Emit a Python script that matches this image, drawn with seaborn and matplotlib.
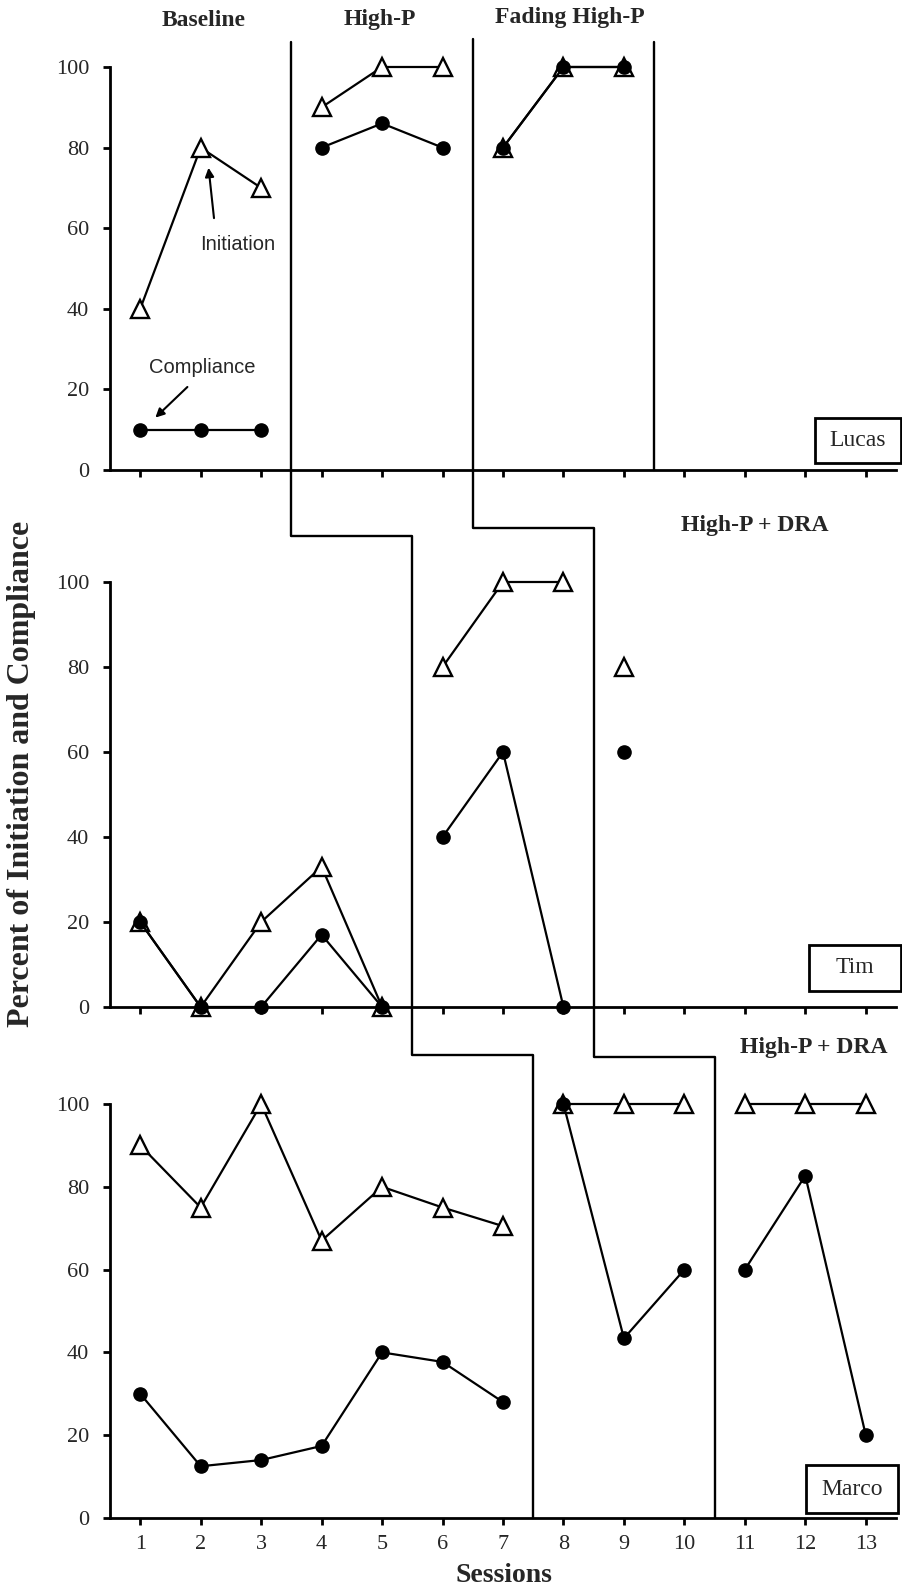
import numpy as np
import pandas as pd
import matplotlib
matplotlib.use("Agg")
import matplotlib.pyplot as plt
import matplotlib.transforms as mtransforms
from matplotlib.lines import Line2D
from matplotlib.patches import Rectangle
import seaborn as sns

sns.set_style("white")
plt.rcParams['font.family'] = ['Liberation Serif', 'DejaVu Serif']

# ---------------- data ----------------
sessions = list(range(1, 14))
tick_labels = [str(s) for s in sessions]

# Lucas
lucas_sessions = [1, 2, 3, 4, 5, 6, 7, 8, 9]
lucas_phase = [1, 1, 1, 2, 2, 2, 3, 3, 3]
lucas_initiation = [40, 80, 70, 90, 100, 100, 80, 100, 100]
lucas_compliance = [10, 10, 10, 80, 86, 80, 80, 100, 100]

# Tim
tim_sessions = [1, 2, 3, 4, 5, 6, 7, 8, 9]
tim_phase = [1, 1, 1, 1, 1, 2, 2, 2, 3]
tim_initiation = [20, 0, 20, 33, 0, 80, 100, 100, 80]
tim_compliance = [20, 0, 0, 17, 0, 40, 60, 0, 60]

# Marco
marco_sessions = [1, 2, 3, 4, 5, 6, 7, 8, 9, 10, 11, 12, 13]
marco_phase = [1, 1, 1, 1, 1, 1, 1, 2, 2, 2, 3, 3, 3]
marco_initiation = [90, 75, 100, 67, 80, 75, 70.5, 100, 100, 100, 100, 100, 100]
marco_compliance = [30, 12.5, 14, 17.4, 40, 37.7, 28, 100, 43.4, 60, 60, 82.7, 20]

names = ["Lucas", "Tim", "Marco"]
phase_titles_top = ["Baseline", "High-P", "Fading High-P"]
phase_title_dra = "High-P + DRA"
y_ticks = [0, 20, 40, 60, 80, 100]

# phase-change lines (session boundaries) per panel
lucas_changes = [3.5, 6.5, 9.5]
tim_changes = [5.5, 8.5]
marco_changes = [7.5, 10.5]


def make_df(s, ph, ini, comp):
    d1 = pd.DataFrame({"session": s, "phase": ph, "value": ini, "measure": "Initiation"})
    d2 = pd.DataFrame({"session": s, "phase": ph, "value": comp, "measure": "Compliance"})
    return pd.concat([d1, d2], ignore_index=True)


dfs = [make_df(lucas_sessions, lucas_phase, lucas_initiation, lucas_compliance),
       make_df(tim_sessions, tim_phase, tim_initiation, tim_compliance),
       make_df(marco_sessions, marco_phase, marco_initiation, marco_compliance)]

# ---------------- layout (pixels) ----------------
W, H = 903, 1591
fig = plt.figure(figsize=(W / 100, H / 100), dpi=100)

ax_left, ax_right = 110, 896
panels_px = [(67, 470), (582, 1007), (1104, 1518)]  # (y of 100, y of 0) from top


def fy(px):
    return 1 - px / H


def fx(px):
    return px / W


axes = []
for (ytop, ybot) in panels_px:
    ax = fig.add_axes([fx(ax_left), fy(ybot), (ax_right - ax_left) / W, (ybot - ytop) / H])
    axes.append(ax)

for i, (ax, df) in enumerate(zip(axes, dfs)):
    ini = df[df.measure == "Initiation"]
    comp = df[df.measure == "Compliance"]
    sns.lineplot(data=ini, x="session", y="value", units="phase", estimator=None,
                 color="black", lw=1.6, marker="^", markersize=13, markerfacecolor="white",
                 markeredgecolor="black", markeredgewidth=1.7, ax=ax, clip_on=False, zorder=3)
    sns.lineplot(data=comp, x="session", y="value", units="phase", estimator=None,
                 color="black", lw=1.6, marker="o", markersize=9.5, markerfacecolor="black",
                 markeredgecolor="black", markeredgewidth=1, ax=ax, clip_on=False, zorder=4)
    ax.set_xlim(0.5, 13.5)
    ax.set_ylim(0, 100)
    ax.set_xticks(sessions)
    ax.set_yticks(y_ticks)
    ax.set_yticklabels([str(t) for t in y_ticks], fontsize=16)
    if i == 2:
        ax.set_xticklabels(tick_labels, fontsize=16)
    else:
        ax.set_xticklabels([])
    ax.set_xlabel("")
    ax.set_ylabel("")
    for sp in ["top", "right"]:
        ax.spines[sp].set_visible(False)
    for sp in ["left", "bottom"]:
        ax.spines[sp].set_linewidth(2)
        ax.spines[sp].set_color("black")
    ax.tick_params(axis="both", direction="out", length=5, width=2, color="black",
                   left=True, bottom=True)
    ax.tick_params(axis="y", pad=10)
    ax.tick_params(axis="x", pad=7)
    ax.set_facecolor("none")
    if ax.get_legend():
        ax.get_legend().remove()

# name boxes (axes coordinates)
boxes = [(0.897, 0.017, 0.109, 0.112), (0.889, 0.038, 0.117, 0.108), (0.885, 0.012, 0.118, 0.116)]
for ax, name, (bx, by, bw, bh) in zip(axes, names, boxes):
    r = Rectangle((bx, by), bw, bh, transform=ax.transAxes, fill=True, facecolor="white",
                  edgecolor="black", lw=2, clip_on=False, zorder=5)
    ax.add_patch(r)
    ax.text(bx + bw / 2, by + bh / 2, name, transform=ax.transAxes, ha="center", va="center",
            fontsize=17, zorder=6)

# annotations (top panel)
sans = ['Liberation Sans', 'DejaVu Sans']
ax0 = axes[0]
ax0.text(2.62, 56, "Initiation", ha="center", va="center", fontsize=14.5, family=sans)
ax0.text(2.02, 25.5, "Compliance", ha="center", va="center", fontsize=14.5, family=sans)
arrow_kw = dict(arrowstyle="-|>", color="black", lw=1.5, shrinkA=0, shrinkB=0, mutation_scale=13)
ax0.annotate("", xy=(2.13, 75), xytext=(2.22, 62.5), arrowprops=arrow_kw)
ax0.annotate("", xy=(1.25, 13), xytext=(1.78, 20.6), arrowprops=arrow_kw)

# phase titles
for txt, xs, ypx in zip(phase_titles_top, [204, 380, 570], [20, 20, 17]):
    fig.text(fx(xs), fy(ypx), txt, ha="center", va="center", fontsize=17, fontweight="bold")
fig.text(fx(755), fy(525), phase_title_dra, ha="center", va="center", fontsize=17, fontweight="bold")
fig.text(fx(814), fy(1048), phase_title_dra, ha="center", va="center", fontsize=17, fontweight="bold")

# axis labels
fig.text(fx(22), fy(774), "Percent of Initiation and Compliance", rotation=90, ha="center",
         va="center", fontsize=23, fontweight="bold")
fig.text(fx(504), fy(1576), "Sessions", ha="center", va="center", fontsize=20, fontweight="bold")

# phase-change lines across panels (x in data units, y in figure pixels)
tr = mtransforms.blended_transform_factory(axes[2].transData, fig.transFigure)
paths = [
    ([lucas_changes[0], lucas_changes[0], tim_changes[0], tim_changes[0], marco_changes[0], marco_changes[0]],
     [42, 536, 536, 1055, 1055, 1518]),
    ([lucas_changes[1], lucas_changes[1], tim_changes[1], tim_changes[1], marco_changes[1], marco_changes[1]],
     [39, 528, 528, 1057, 1057, 1518]),
    ([lucas_changes[2], lucas_changes[2]], [42, 470]),
]
for xs, ys in paths:
    fig.add_artist(Line2D(xs, [fy(v) for v in ys], transform=tr, color="black", lw=1.7))

fig.savefig("out.png", dpi=100, facecolor="white")
